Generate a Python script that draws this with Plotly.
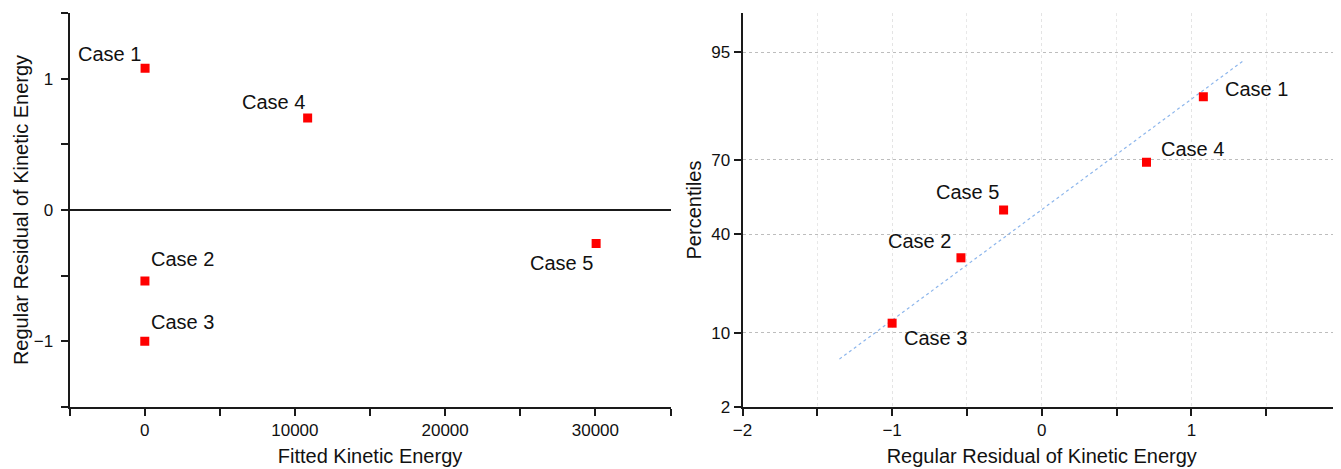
import plotly.graph_objects as go
from statistics import NormalDist, mean, stdev

# ---- data ----
cases = ["Case 1", "Case 2", "Case 3", "Case 4", "Case 5"]
fitted_ke = [30, 20, 10, 10850, 30050]            # Fitted Kinetic Energy
residuals = [1.08, -0.54, -1.00, 0.70, -0.255]    # Regular Residual of Kinetic Energy
percentiles = [88.1, 30.9, 11.9, 69.1, 50.0]      # plotting percentiles (%)
pct_ticks = [2, 10, 40, 70, 95]                   # probability-axis tick labels
pct_range = [2, 98]
ref_line_pct = [6, 94]                            # extent of the normal reference line

# ---- label placement (style) ----
left_lab = {  # xanchor, xshift, yshift
    "Case 1": ("right", -2, 14),
    "Case 2": ("left", 4, 22),
    "Case 3": ("left", 4, 19),
    "Case 4": ("right", -1, 16),
    "Case 5": ("right", -1, -20),
}
right_lab = {
    "Case 1": ("left", 20, 8),
    "Case 2": ("right", -8, 17),
    "Case 3": ("left", 10, -15),
    "Case 4": ("left", 13, 13),
    "Case 5": ("right", -3, 18),
}

nd = NormalDist()
def probit(p):
    return nd.inv_cdf(p / 100.0)

z_pts = [probit(p) for p in percentiles]
mu, sd = mean(residuals), stdev(residuals)
line_z = [probit(p) for p in ref_line_pct]
line_x = [mu + z * sd for z in line_z]

FONT = "Liberation Sans, Arial, sans-serif"
RED = "#ff0000"
AX = "#1a1a1a"

fig = go.Figure()
fig.add_trace(go.Scatter(
    x=fitted_ke, y=residuals, mode="markers",
    marker=dict(symbol="square", size=9, color=RED, line=dict(width=0)),
    xaxis="x", yaxis="y", showlegend=False, hoverinfo="skip"))
fig.add_trace(go.Scatter(
    x=line_x, y=line_z, mode="lines",
    line=dict(color="#8db6ec", width=1.2, dash="dot"),
    xaxis="x2", yaxis="y2", showlegend=False, hoverinfo="skip"))
fig.add_trace(go.Scatter(
    x=residuals, y=z_pts, mode="markers",
    marker=dict(symbol="square", size=9, color=RED, line=dict(width=0)),
    xaxis="x2", yaxis="y2", showlegend=False, hoverinfo="skip"))

ann = []
for c, xv, yv in zip(cases, fitted_ke, residuals):
    xa, xs, ys = left_lab[c]
    ann.append(dict(x=xv, y=yv, xref="x", yref="y", text=c, showarrow=False,
                    xanchor=xa, yanchor="middle", xshift=xs, yshift=ys,
                    font=dict(family=FONT, size=20, color="#111")))
for c, xv, zv in zip(cases, residuals, z_pts):
    xa, xs, ys = right_lab[c]
    ann.append(dict(x=xv, y=zv, xref="x2", yref="y2", text=c, showarrow=False,
                    xanchor=xa, yanchor="middle", xshift=xs, yshift=ys,
                    font=dict(family=FONT, size=20, color="#111")))

# page body adds an 8px margin, so the figure is drawn 8px smaller
OFF = 8
W, H = 1341 - OFF, 469 - OFF
axis_common = dict(showline=True, linecolor=AX, linewidth=2, ticks="outside",
                   ticklen=7, tickwidth=1.5, tickcolor=AX, mirror=False,
                   automargin=False,
                   tickfont=dict(family=FONT, size=17, color="#111"),
                   title_font=dict(family=FONT, size=20, color="#111"))

fig.update_layout(
    width=W, height=H,
    margin=dict(l=0, r=0, t=13.3 - OFF, b=62),
    paper_bgcolor="white", plot_bgcolor="white",
    font=dict(family=FONT, color="#111"),
    annotations=ann,
    xaxis=dict(domain=[(69.5 - OFF) / W, (670.5 - OFF) / W], range=[-5000, 35000],
               dtick=10000, tick0=0, tickformat="d", showgrid=False, zeroline=False,
               minor=dict(dtick=5000, tick0=0, ticks="outside", ticklen=7,
                          tickwidth=1.5, tickcolor=AX, showgrid=False),
               title=dict(text="Fitted Kinetic Energy", standoff=10),
               anchor="y", **axis_common),
    yaxis=dict(domain=[0, 1], range=[-1.5, 1.5], dtick=1, tick0=0,
               showgrid=False, zeroline=True, zerolinecolor=AX, zerolinewidth=2,
               ticklabelstandoff=4,
               minor=dict(dtick=0.5, tick0=0, ticks="outside", ticklen=7,
                          tickwidth=1.5, tickcolor=AX, showgrid=False),
               title=dict(text="Regular Residual of Kinetic Energy", standoff=0),
               anchor="x", **axis_common),
    xaxis2=dict(domain=[(742.5 - OFF) / W, 1.0], range=[-2, 2], dtick=1, tick0=0,
                showgrid=True, gridcolor="#e4e4e4", gridwidth=1, griddash="dot",
                zeroline=False,
                minor=dict(dtick=0.5, tick0=0, ticks="outside", ticklen=7,
                           tickwidth=1.5, tickcolor=AX, showgrid=True,
                           gridcolor="#e8e8e8", griddash="dot", gridwidth=1),
                title=dict(text="Regular Residual of Kinetic Energy", standoff=10),
                anchor="y2", **axis_common),
    yaxis2=dict(domain=[0, 1], range=[probit(pct_range[0]), probit(pct_range[1])],
                tickmode="array", tickvals=[probit(p) for p in pct_ticks],
                ticktext=[str(p) for p in pct_ticks],
                showgrid=True, gridcolor="#bdbdbd", gridwidth=1, griddash="dot",
                zeroline=False,
                title=dict(text="Percentiles", standoff=4),
                anchor="x2", **axis_common),
)

fig.write_html("out.html")
